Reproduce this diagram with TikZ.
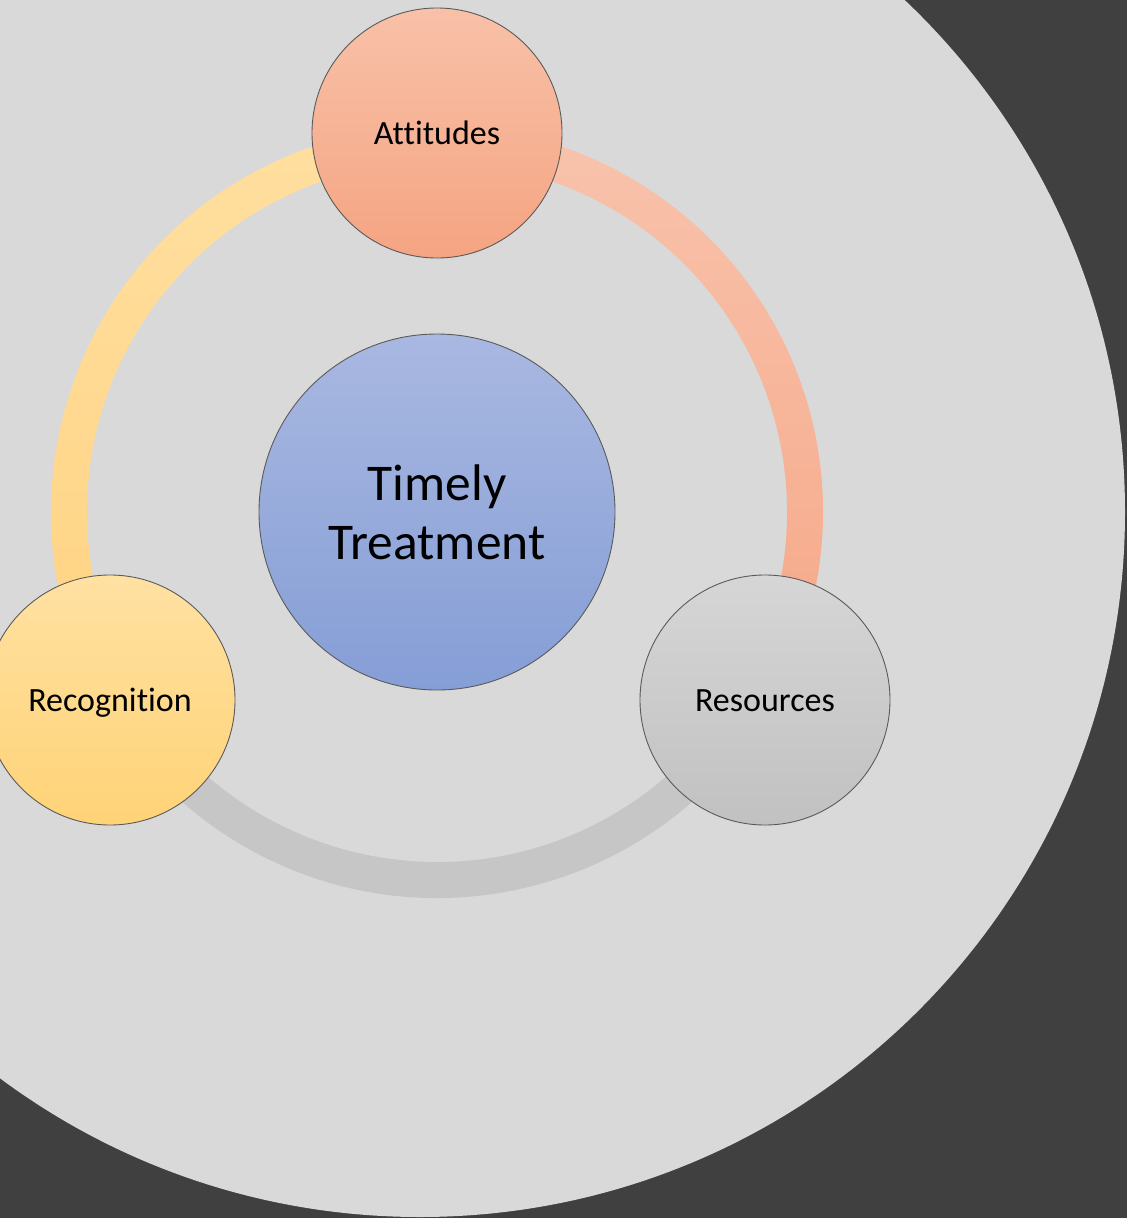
\documentclass[tikz,border=0pt]{standalone}
\usepackage{fontspec}
\setmainfont{Carlito}[Ligatures=NoCommon]
\definecolor{darkbg}{HTML}{404040}
\definecolor{lightbg}{HTML}{D9D9D9}
\definecolor{attTop}{HTML}{F8C1A8}
\definecolor{attBot}{HTML}{F5A482}
\definecolor{recTop}{HTML}{FFE1A2}
\definecolor{recBot}{HTML}{FFD377}
\definecolor{resTop}{HTML}{D6D6D6}
\definecolor{resBot}{HTML}{C1C1C1}
\definecolor{ctrTop}{HTML}{A9B8E1}
\definecolor{ctrBot}{HTML}{859ED6}
\definecolor{edge}{HTML}{5A5A5A}
\definecolor{arcYTop}{HTML}{FFDFA0}
\definecolor{arcYBot}{HTML}{FFD381}
\definecolor{arcOTop}{HTML}{F8C3AC}
\definecolor{arcOBot}{HTML}{F6A787}
\definecolor{arcG}{HTML}{C6C6C6}
\begin{document}
\begin{tikzpicture}[x=1pt,y=-1pt,
  bubble/.style={circle, draw=edge, line width=0.9pt, minimum size=250pt, inner sep=0pt,
    text height=23pt, text depth=0pt,
    font=\fontsize{34}{40}\selectfont, text=black},
  core/.style={circle, draw=edge, line width=0.9pt, minimum size=356pt, inner sep=0pt,
    align=center, font=\fontsize{51.5}{59}\selectfont, text=black}]
\useasboundingbox (0,0) rectangle (1127,1218);
\clip (0,0) rectangle (1127,1218);
\fill[darkbg] (0,0) rectangle (1127,1218);
\fill[lightbg] (420,512) circle[radius=705];
% ring segments
\begin{scope}[shift={(437,512)}]
  \shade[top color=arcYTop, bottom color=arcYBot]
    (150:386) arc[start angle=150,end angle=270,radius=386]
    -- (270:350) arc[start angle=270,end angle=150,radius=350] -- cycle;
  \shade[top color=arcOTop, bottom color=arcOBot]
    (270:386) arc[start angle=270,end angle=390,radius=386]
    -- (30:350) arc[start angle=30,end angle=-90,radius=350] -- cycle;
  \fill[arcG]
    (30:386) arc[start angle=30,end angle=150,radius=386]
    -- (150:350) arc[start angle=150,end angle=30,radius=350] -- cycle;
\end{scope}
% nodes
\node[core, top color=ctrTop, bottom color=ctrBot] (ctr) at (437,512) {Timely\\Treatment};
\node[bubble, top color=attTop, bottom color=attBot] (att) at (437,133) {Attitudes};
\node[bubble, top color=recTop, bottom color=recBot] (rec) at (110,700) {Recognition};
\node[bubble, top color=resTop, bottom color=resBot] (res) at (765,700) {Resources};
\end{tikzpicture}
\end{document}
